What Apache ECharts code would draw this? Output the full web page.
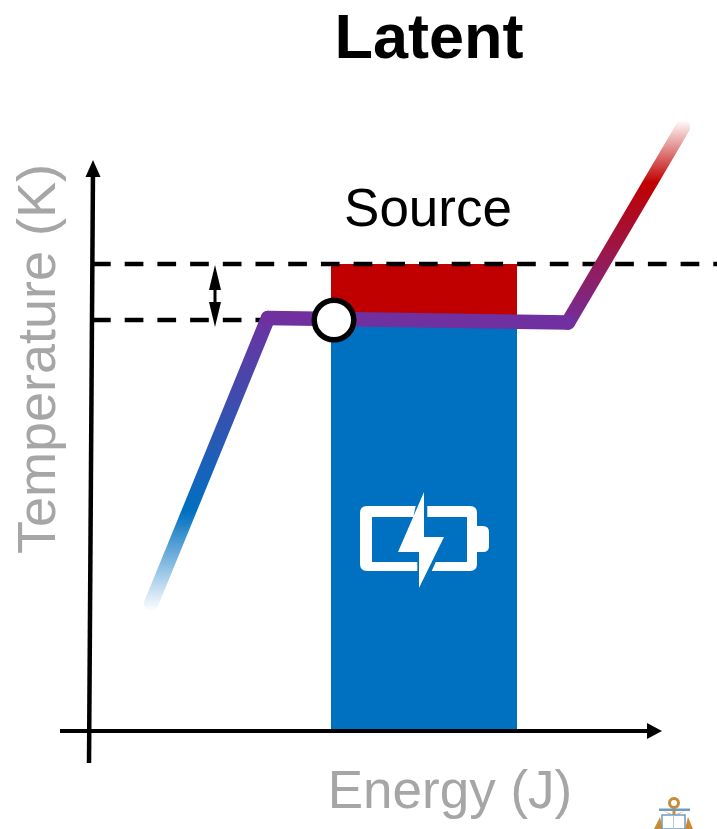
<!DOCTYPE html>
<html><head><meta charset="utf-8">
<style>html,body{margin:0;padding:0;background:#fff}#c{width:717px;height:829px}</style>
<script src="https://cdn.jsdelivr.net/npm/echarts@6/dist/echarts.min.js"></script>
</head><body><div id="c"></div>
<script>
// values in axis units (energy, temperature)
const risingSolid = [[61, 127], [178, 413]];
const latentPlateau = [[178, 413], [478, 408.5]];
const risingLiquid = [[478, 408.5], [593, 604]];
const storedBand = [241, 427, 0, 409];
const sourceBand = [241, 427, 409, 467];
const sourceLevel = [[2, 467], [627, 467]];
const meltLevel = [[2, 411], [178, 411]];
const meltPoint = [[244, 411]];
const deltaArrow = [[125, 453.5], [125, 416.5]];
const tempAxis = [[-1, -32], [3, 562.5]];
const energyAxis = [[-30, 0], [564.5, 0]];
const titleText = 'Latent', sourceText = 'Source';
const xName = 'Energy (J)', yName = 'Temperature (K)';

const FONT = '"Liberation Sans", Arial, sans-serif';
const PURPLE = '#7030A0', BLUE = '#0070C0', RED = '#C00000', GREY = '#A6A6A6';
const vGrad = (stops) => ({type:'linear', x:0, y:1, x2:0, y2:0, colorStops:stops});

function iconShape(name, d){
  echarts.graphic.registerShape(name, echarts.graphic.extendPath(d, {}));
}
iconShape('batteryIcon',
  'M415.7 506 H367 Q360 506 360 513 V564 Q360 571 367 571 H417.3 V562 H372 V517 H413.3 Z '+
  'M427.3 506 H470 Q477 506 477 513 V564 Q477 571 470 571 H431.7 L435.7 562 H467 V517 H427.3 Z '+
  'M477 526 H483 Q489 526 489 532 V546 Q489 552 483 552 H477 Z '+
  'M424 492 L398 552 H419 V588 L444 537 H424 Z');
iconShape('emblemCrescent', 'M663 811 Q674 818 685 811 L674 815 Z');
iconShape('emblemFlukes', 'M654 829 L660 817 L663 829 Z M685 829 L688 817 L693 829 Z M668 829 Q674 825 680 829 Z');

function rectSeries(band, color, z){
  return {type:'custom', z, clip:false, silent:true,
    data:[band],
    renderItem:(p, api)=>{
      const a = api.coord([api.value(0), api.value(3)]);
      const b = api.coord([api.value(1), api.value(2)]);
      return {type:'rect', shape:{x:a[0], y:a[1], width:b[0]-a[0], height:b[1]-a[1]}, style:{fill:color}};
    },
    encode:{x:[0,1], y:[2,3]}
  };
}
function path(data, color, z, w){
  return {type:'line', data, z, clip:false, silent:true, symbol:'none', animation:false,
    lineStyle:{color, width:w||14.5, cap:'round', join:'round'}};
}
function dashed(data, z){
  return {type:'line', data, z, clip:false, silent:true, symbol:'none',
    lineStyle:{color:'#000', width:4.5, type:[18.7,14], cap:'butt'}};
}
function arrowLine(data, size, rot, w, both){
  return {type:'line', z:7, clip:false, silent:true, showSymbol:true, showAllSymbol:true,
    symbol:'none', lineStyle:{color:'#000', width:w, cap:'butt'},
    data:data.map((d,i)=>{
      const tip = i===data.length-1, tail = both && i===0;
      return (tip||tail) ? {value:d, symbol:'triangle', symbolSize:size,
        symbolRotate: tip?rot:rot+180, itemStyle:{color:'#000'}} : {value:d, symbol:'none'};
    })};
}

const chart = echarts.init(document.getElementById('c'), null, {renderer:'canvas'});
chart.setOption({
  animation:false,
  backgroundColor:'#fff',
  title:[
    {text:titleText, left:424, top:4, textAlign:'center',
     textStyle:{fontFamily:FONT, fontSize:63, fontWeight:'bold', color:'#000'}},
    {text:sourceText, left:423, top:180, textAlign:'center',
     textStyle:{fontFamily:FONT, fontSize:53, fontWeight:'normal', color:'#000'}}
  ],
  grid:{left:60, right:0, top:100, bottom:66, outerBoundsMode:'none', containLabel:false},
  xAxis:{type:'value', min:-30, max:627, name:xName, nameLocation:'middle', nameGap:4,
    nameTextStyle:{fontFamily:FONT, fontSize:53, color:GREY, padding:[0,0,0,123]},
    axisLine:{show:false}, axisTick:{show:false}, axisLabel:{show:false}, splitLine:{show:false}},
  yAxis:{type:'value', min:-32, max:631, name:yName, nameLocation:'middle', nameGap:-7,
    nameTextStyle:{fontFamily:FONT, fontSize:54, color:GREY, padding:[0,0,0,145]},
    axisLine:{show:false}, axisTick:{show:false}, axisLabel:{show:false}, splitLine:{show:false}},
  series:[
    rectSeries(storedBand, BLUE, 1),
    rectSeries(sourceBand, RED, 1),
    dashed(sourceLevel, 2),
    dashed(meltLevel, 2),
    path(risingSolid, vGrad([{offset:0,color:'#fff'},{offset:.33,color:BLUE},{offset:1,color:PURPLE}]), 3),
    path(risingLiquid, vGrad([{offset:0,color:PURPLE},{offset:.7,color:RED},{offset:1,color:'#fff'}]), 3),
    path(latentPlateau, PURPLE, 4),
    {type:'scatter', z:5, clip:false, silent:true, data:meltPoint, symbol:'circle', symbolSize:39.5,
      itemStyle:{color:'#fff', borderColor:'#000', borderWidth:5.5, opacity:1}},
    arrowLine(tempAxis, [15,17], 0, 4.5),
    arrowLine(energyAxis, [16,15], -90, 4),
    arrowLine(deltaArrow, [12,25], 180, 3, true)
  ],
  graphic:[
    {type:'batteryIcon', z:10, silent:true, style:{fill:'#fff'}},
    {type:'group', silent:true, children:[
      {type:'circle', shape:{cx:674,cy:803,r:4.5}, style:{fill:'none', stroke:'#C98B35', lineWidth:3}},
      {type:'rect', shape:{x:672.5,y:807,width:3,height:8}, style:{fill:'#C98B35'}},
      {type:'emblemCrescent', style:{fill:'#C98B35'}},
      {type:'rect', shape:{x:659,y:808.5,width:31,height:2.5}, style:{fill:'#6E9BC0'}},
      {type:'emblemFlukes', style:{fill:'#C98B35'}},
      {type:'rect', shape:{x:662,y:815,width:23,height:14}, style:{fill:'#fff', stroke:'#6E9BC0', lineWidth:1.5}},
      {type:'line', shape:{x1:673.5,y1:815,x2:673.5,y2:829}, style:{stroke:'#B5C9DA', lineWidth:1}}
    ]}
  ]
});
</script></body></html>
